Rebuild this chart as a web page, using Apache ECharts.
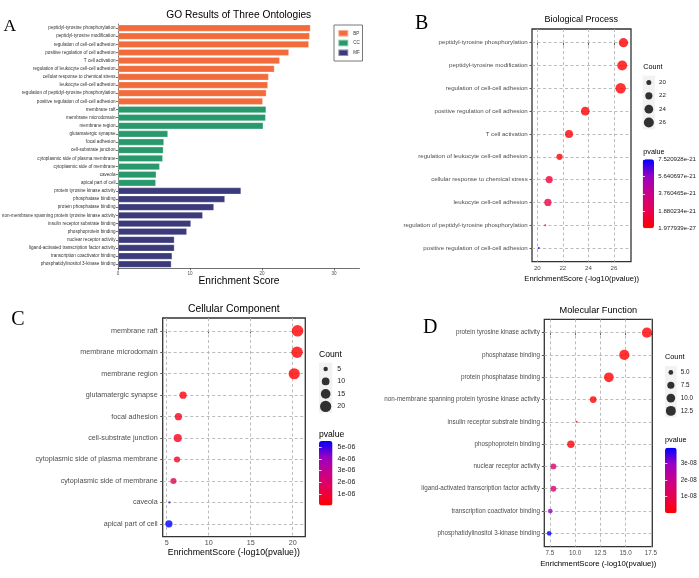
<!DOCTYPE html>
<html><head><meta charset="utf-8">
<script src="https://cdn.jsdelivr.net/npm/echarts@6/dist/echarts.min.js"></script>
<style>html,body{margin:0;padding:0;background:#fff}#c{width:699px;height:578px}</style>
</head><body><div id="c"></div>
<script>
// ---------------- DATA ----------------
const bpTerms = ['peptidyl-tyrosine phosphorylation','peptidyl-tyrosine modification','regulation of cell-cell adhesion','positive regulation of cell adhesion','T cell activation','regulation of leukocyte cell-cell adhesion','cellular response to chemical stress','leukocyte cell-cell adhesion','regulation of peptidyl-tyrosine phosphorylation','positive regulation of cell-cell adhesion'];
const bpScore = [26.74, 26.64, 26.52, 23.75, 22.48, 21.74, 20.93, 20.83, 20.62, 20.12];
const bpCount = [25, 26, 27, 24, 23, 21, 22, 22, 19, 19];
const bpPvalue = [1.977939e-27, 2.3e-27, 3.0e-27, 1.8e-24, 3.3e-23, 1.8e-22, 1.2e-21, 1.5e-21, 2.4e-21, 7.520928e-21];

const ccTerms = ['membrane raft','membrane microdomain','membrane region','glutamatergic synapse','focal adhesion','cell-substrate junction','cytoplasmic side of plasma membrane','cytoplasmic side of membrane','caveola','apical part of cell'];
const ccScore = [20.58, 20.52, 20.18, 6.94, 6.39, 6.31, 6.23, 5.80, 5.32, 5.26];
const ccCount = [21, 21, 20, 9, 9, 11, 7, 7, 4, 9];
const ccPvalue = [2.6e-21, 3.0e-21, 6.6e-21, 1.15e-7, 4.1e-7, 4.9e-7, 5.9e-7, 1.6e-6, 4.8e-6, 5.53e-6];

const mfTerms = ['protein tyrosine kinase activity','phosphatase binding','protein phosphatase binding','non-membrane spanning protein tyrosine kinase activity','insulin receptor substrate binding','phosphoprotein binding','nuclear receptor activity','ligand-activated transcription factor activity','transcription coactivator binding','phosphatidylinositol 3-kinase binding'];
const mfScore = [17.10, 14.86, 13.33, 11.78, 10.14, 9.57, 7.84, 7.84, 7.53, 7.42];
const mfCount = [13, 13, 12, 7, 4, 8, 6, 6, 5, 5];
const mfPvalue = [8.0e-18, 1.4e-15, 4.7e-14, 1.7e-12, 7.2e-11, 2.7e-10, 1.45e-8, 1.45e-8, 2.95e-8, 3.93e-8];

const ontologies = ['BP', 'CC', 'MF'];

const aTicks = [0, 10, 20, 30];
const aTickLabels = ['0', '10', '20', '30'];
const bTicks = [20, 22, 24, 26];
const bTickLabels = ['20', '22', '24', '26'];
const cTicks = [5, 10, 15, 20];
const cTickLabels = ['5', '10', '15', '20'];
const dTicks = [7.5, 10, 12.5, 15, 17.5];
const dTickLabels = ['7.5', '10.0', '12.5', '15.0', '17.5'];

const bCountBreaks = [20, 22, 24, 26];
const bCountLabels = ['20', '22', '24', '26'];
const cCountBreaks = [5, 10, 15, 20];
const cCountLabels = ['5', '10', '15', '20'];
const dCountBreaks = [5, 7.5, 10, 12.5];
const dCountLabels = ['5.0', '7.5', '10.0', '12.5'];

const bPvalTicks = [1.977939e-27, 1.880234e-21, 3.760465e-21, 5.640697e-21, 7.520928e-21];
const bPvalLabels = ['1.977939e-27', '1.880234e-21', '3.760465e-21', '5.640697e-21', '7.520928e-21'];
const cPvalTicks = [1e-6, 2e-6, 3e-6, 4e-6, 5e-6];
const cPvalLabels = ['1e-06', '2e-06', '3e-06', '4e-06', '5e-06'];
const dPvalTicks = [1e-8, 2e-8, 3e-8];
const dPvalLabels = ['1e-08', '2e-08', '3e-08'];

// ---------------- LAYOUT / STYLE ----------------
const SANS = '"Liberation Sans", Arial, Helvetica, sans-serif';
const SERIF = '"Liberation Serif", "Times New Roman", serif';
const BAR_COLORS = {BP: '#F26B3A', CC: '#28996C', MF: '#3B3A7A'};
const GRAD = ['#FF0000', '#E8004F', '#CA0089', '#9A00C3', '#0000FF'];

const P = {
  B: {grid: {left: 532, top: 29, width: 99, height: 232.7}, xmin: 19.586, xmax: 27.33, fs: 6.1, ylm: 4.3, xlm: 3.5, dmin: 2, dmax: 10.5,
      size: {left: 642.7, top: 75.7, width: 12.3, height: 53.6, fs: 6.1, m: 4},
      cbar: {left: 642.7, top: 159.3, width: 11.3, height: 69, fs: 6.1, m: 4.3}},
  C: {grid: {left: 162.7, top: 318, width: 142.6, height: 218.7}, xmin: 4.52, xmax: 21.5, fs: 7.2, ylm: 5, xlm: 2.8, dmin: 2.2, dmax: 11.5,
      size: {left: 319, top: 362.7, width: 13.3, height: 50, fs: 7, m: 5},
      cbar: {left: 319, top: 441, width: 13.5, height: 64.5, fs: 7, m: 5}},
  D: {grid: {left: 544.3, top: 319.3, width: 108, height: 227.4}, xmin: 6.94, xmax: 17.63, fs: 6.3, ylm: 4.3, xlm: 4, dmin: 2, dmax: 10.2,
      size: {left: 665, top: 366, width: 11.7, height: 51.3, fs: 6.3, m: 4},
      cbar: {left: 665, top: 447.7, width: 11.7, height: 65.6, fs: 6.3, m: 4}}
};

const TEXTS = [
  ['A', 9.7, 26, 17.5, SERIF, 'center'],
  ['B', 421.7, 24.2, 20, SERIF, 'center'],
  ['C', 17.8, 319.7, 20, SERIF, 'center'],
  ['D', 430.3, 327.7, 20, SERIF, 'center'],
  ['GO Results of Three Ontologies', 238.7, 15, 10.2, SANS, 'center'],
  ['Biological Process', 581.2, 20, 9, SANS, 'center'],
  ['Cellular Component', 233.8, 309.5, 10.4, SANS, 'center'],
  ['Molecular Function', 598.3, 310.7, 9.2, SANS, 'center'],
  ['Enrichment Score', 239, 281, 10.2, SANS, 'center'],
  ['EnrichmentScore (-log10(pvalue))', 581.7, 278.8, 7.65, SANS, 'center'],
  ['EnrichmentScore (-log10(pvalue))', 233.8, 552.5, 8.8, SANS, 'center'],
  ['EnrichmentScore (-log10(pvalue))', 598.3, 563.7, 7.75, SANS, 'center'],
  ['Count', 643.3, 67.5, 7.2, SANS, 'left'],
  ['pvalue', 643.3, 152.5, 7.2, SANS, 'left'],
  ['Count', 319, 354.3, 8.6, SANS, 'left'],
  ['pvalue', 319, 434.7, 8.6, SANS, 'left'],
  ['Count', 665, 356.7, 7.3, SANS, 'left'],
  ['pvalue', 665, 439.5, 7.3, SANS, 'left']
];

// ---------------- BUILD ----------------
const grid = [], xAxis = [], yAxis = [], series = [], visualMap = [];
function addGrid(g) { grid.push(Object.assign({outerBoundsMode: 'none', containLabel: false}, g)); return grid.length - 1; }
function lab(ticks, labels) {
  return v => { const i = ticks.findIndex(t => Math.abs(t - v) <= Math.abs(t) * 1e-6 + 1e-9); return i < 0 ? '' : labels[i]; };
}
function sizeFn(counts, dmin, dmax) {
  const cmin = Math.min(...counts), cmax = Math.max(...counts);
  return c => dmin + (dmax - dmin) * Math.sqrt(Math.max(0, (c - cmin) / (cmax - cmin)));
}

// Panel A
const allTerms = bpTerms.concat(ccTerms, mfTerms);
const allScores = [bpScore, ccScore, mfScore];
const gA = addGrid({left: 118, top: 24, width: 241.5, height: 244.3});
xAxis.push({gridIndex: gA, type: 'value', min: 0, max: 33.55,
  axisLine: {show: true, lineStyle: {color: '#333', width: 0.7}},
  axisTick: {show: true, customValues: aTicks, length: 2, lineStyle: {color: '#333', width: 0.7}},
  axisLabel: {customValues: aTicks, formatter: lab(aTicks, aTickLabels), fontSize: 4.6, color: '#4D4D4D', margin: 3, fontFamily: SANS},
  splitLine: {show: false}});
const xA = xAxis.length - 1;
yAxis.push({gridIndex: gA, type: 'category', data: allTerms, inverse: true,
  axisLine: {show: true, lineStyle: {color: '#333', width: 0.7}},
  axisTick: {show: true, alignWithLabel: true, interval: 0, length: 2, lineStyle: {color: '#333', width: 0.7}},
  axisLabel: {interval: 0, fontSize: 4.6, color: '#333', margin: 2.5, fontFamily: SANS},
  splitLine: {show: false}});
const yA = yAxis.length - 1;
let offset = 0;
ontologies.forEach((name, k) => {
  const vals = allScores[k];
  const start = offset;
  series.push({type: 'bar', name, xAxisIndex: xA, yAxisIndex: yA, stack: 'go', barWidth: '84%',
    itemStyle: {color: BAR_COLORS[name], borderColor: 'rgba(255,255,255,0.45)', borderWidth: 0.6},
    data: allTerms.map((_, i) => (i >= start && i < start + vals.length) ? vals[i - start] : '-'),
    silent: true});
  offset += vals.length;
});

function dotPanel(k, terms, score, count, pv, ticks, tickLabels) {
  const p = P[k];
  const gi = addGrid(Object.assign({show: true, borderColor: '#333', borderWidth: 1.3, backgroundColor: '#fff'}, p.grid));
  xAxis.push({gridIndex: gi, type: 'value', min: p.xmin, max: p.xmax,
    axisLine: {show: false}, splitLine: {show: false},
    axisTick: {show: true, customValues: ticks, length: 2.5, lineStyle: {color: '#333', width: 0.8}},
    axisLabel: {customValues: ticks, formatter: lab(ticks, tickLabels), fontSize: p.fs, color: '#4D4D4D', margin: p.xlm, fontFamily: SANS}});
  const xi = xAxis.length - 1;
  const idx = terms.map((_, i) => i);
  yAxis.push({gridIndex: gi, type: 'value', inverse: true, min: -0.6, max: terms.length - 0.4,
    axisLine: {show: false}, splitLine: {show: false},
    axisTick: {show: true, customValues: idx, length: 2.5, lineStyle: {color: '#333', width: 0.8}},
    axisLabel: {customValues: idx, formatter: v => terms[Math.round(v)], fontSize: p.fs, color: '#4D4D4D', margin: p.ylm, fontFamily: SANS}});
  const yi = yAxis.length - 1;
  const sf = sizeFn(count, p.dmin, p.dmax);
  series.push({type: 'scatter', xAxisIndex: xi, yAxisIndex: yi, z: 3, silent: true,
    data: score.map((s, i) => [s, i, pv[i], count[i]]),
    symbolSize: d => sf(d[3]),
    markLine: {silent: true, z: 1, animation: false, symbol: ['none', 'none'], label: {show: false},
      emphasis: {disabled: true},
      lineStyle: {color: '#B4B4B4', width: 0.9, type: [3, 2.5]},
      data: idx.map(i => ({yAxis: i})).concat(ticks.map(t => ({xAxis: t})))}});
  return {seriesIndex: series.length - 1, sf};
}

function sizeLegend(k, breaks, labels, sf) {
  const s = P[k].size;
  const gi = addGrid({left: s.left, top: s.top, width: s.width, height: s.height, show: true, backgroundColor: '#F2F2F2', borderWidth: 0, borderColor: 'transparent'});
  xAxis.push({gridIndex: gi, type: 'value', show: false, min: -1, max: 1});
  yAxis.push({gridIndex: gi, type: 'category', data: labels, inverse: true, position: 'right',
    axisLine: {show: false}, axisTick: {show: false}, splitLine: {show: false},
    axisLabel: {interval: 0, fontSize: s.fs, color: '#1A1A1A', margin: s.m, fontFamily: SANS}});
  series.push({type: 'scatter', xAxisIndex: xAxis.length - 1, yAxisIndex: yAxis.length - 1, silent: true,
    data: breaks.map((b, i) => [0, i, b]), symbolSize: d => sf(d[2]), itemStyle: {color: '#000'}});
}

function colorbar(k, pv, ticks, labels, seriesIndex) {
  const c = P[k].cbar;
  const vmin = Math.min(...pv), vmax = Math.max(...pv);
  visualMap.push({type: 'continuous', seriesIndex, dimension: 2, min: vmin, max: vmax, calculable: false, hoverLink: false,
    orient: 'vertical', left: c.left, top: c.top, itemWidth: c.width, itemHeight: c.height, padding: 0,
    text: null, showLabel: false, inRange: {color: GRAD}});
  const gi = addGrid({left: c.left, top: c.top, width: c.width, height: c.height});
  const pos = ticks.map(t => (t - vmin) / (vmax - vmin));
  xAxis.push({gridIndex: gi, type: 'value', show: false, min: 0, max: 1});
  yAxis.push({gridIndex: gi, type: 'value', min: 0, max: 1, position: 'right', z: 10,
    axisLine: {show: false}, splitLine: {show: false},
    axisTick: {show: true, customValues: pos, inside: true, length: c.width / 5, lineStyle: {color: '#fff', width: 0.8}},
    axisLabel: {customValues: pos, formatter: lab(pos, labels), fontSize: c.fs, color: '#1A1A1A', margin: c.m, fontFamily: SANS}});
  yAxis.push({gridIndex: gi, type: 'value', min: 0, max: 1, position: 'left', z: 10,
    axisLine: {show: false}, splitLine: {show: false},
    axisTick: {show: true, customValues: pos, inside: true, length: c.width / 5, lineStyle: {color: '#fff', width: 0.8}},
    axisLabel: {show: false}});
}

const pb = dotPanel('B', bpTerms, bpScore, bpCount, bpPvalue, bTicks, bTickLabels);
const pc = dotPanel('C', ccTerms, ccScore, ccCount, ccPvalue, cTicks, cTickLabels);
const pd = dotPanel('D', mfTerms, mfScore, mfCount, mfPvalue, dTicks, dTickLabels);
sizeLegend('B', bCountBreaks, bCountLabels, pb.sf);
sizeLegend('C', cCountBreaks, cCountLabels, pc.sf);
sizeLegend('D', dCountBreaks, dCountLabels, pd.sf);
colorbar('B', bpPvalue, bPvalTicks, bPvalLabels, pb.seriesIndex);
colorbar('C', ccPvalue, cPvalTicks, cPvalLabels, pc.seriesIndex);
colorbar('D', mfPvalue, dPvalTicks, dPvalLabels, pd.seriesIndex);

const graphic = TEXTS.map(([text, x, y, fs, ff, align]) => ({
  type: 'text', x, y, silent: true,
  style: {text, fontSize: fs, fontFamily: ff, fill: '#000', align, verticalAlign: 'middle'}
}));

const option = {
  animation: false,
  backgroundColor: '#ffffff',
  textStyle: {fontFamily: SANS},
  legend: {data: ontologies, orient: 'vertical', left: 334, top: 25, padding: [4, 2.7, 4, 3.3],
    itemWidth: 10, itemHeight: 6.6, itemGap: 1.1, icon: 'rect', selectedMode: false,
    borderColor: '#555', borderWidth: 0.8, backgroundColor: '#fff',
    textStyle: {fontSize: 4.5, lineHeight: 5, color: '#333', fontFamily: SANS}},
  grid, xAxis, yAxis, series, visualMap,
  graphic: {elements: graphic}
};
const chart = echarts.init(document.getElementById('c'), null, {renderer: 'canvas'});
chart.setOption(option);
</script>
</body></html>
